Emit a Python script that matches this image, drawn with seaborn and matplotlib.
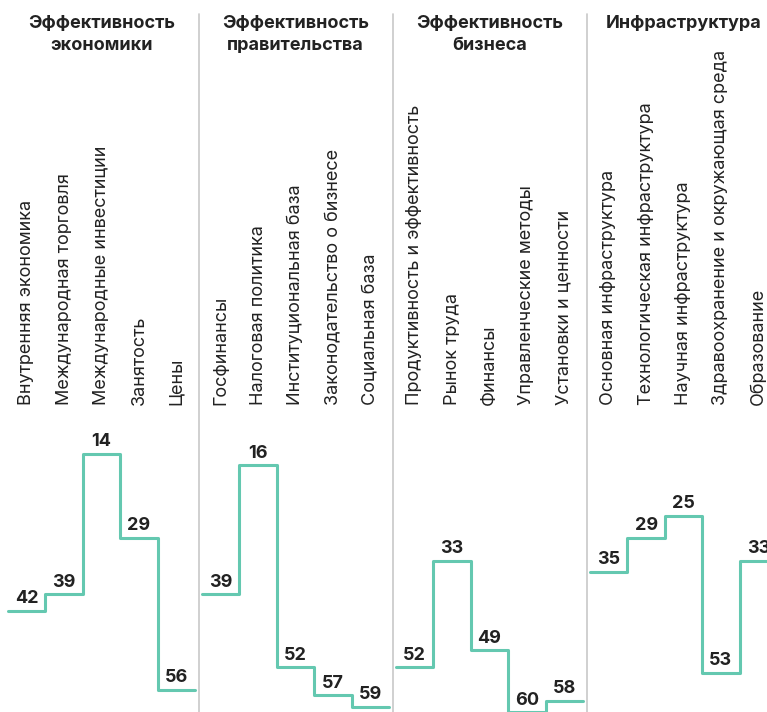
import matplotlib
matplotlib.use("Agg")
import matplotlib.pyplot as plt
import seaborn as sns
import pandas as pd

# ranks per sub-factor (lower = better)
titles = ["Эффективность\nэкономики", "Эффективность\nправительства",
          "Эффективность\nбизнеса", "Инфраструктура"]
cats_econ = ["Внутренняя экономика", "Международная торговля",
             "Международные инвестиции", "Занятость", "Цены"]
cats_gov = ["Госфинансы", "Налоговая политика", "Институциональная база",
            "Законодательство о бизнесе", "Социальная база"]
cats_bus = ["Продуктивность и эффективность", "Рынок труда", "Финансы",
            "Управленческие методы", "Установки и ценности"]
cats_inf = ["Основная инфраструктура", "Технологическая инфраструктура",
            "Научная инфраструктура", "Здравоохранение и окружающая среда",
            "Образование"]
rank_econ = [42, 39, 14, 29, 56]
rank_gov = [39, 16, 52, 57, 59]
rank_bus = [52, 33, 49, 60, 58]
rank_inf = [35, 29, 25, 53, 33]

cats = [cats_econ, cats_gov, cats_bus, cats_inf]
ranks = [rank_econ, rank_gov, rank_bus, rank_inf]

LINE = "#64c8b0"
TXT = "#222222"
SEP = "#c8c8c8"

sns.set_theme(style="white")
plt.rcParams["font.family"] = ["Inter", "DejaVu Sans"]

W, H = 767, 712
fig = plt.figure(figsize=(W / 100, H / 100), dpi=100)

step_px = 37.4
y0 = 375.3   # pixel row of rank 0
k = 5.615    # pixels per rank
y_top = -y0 / k
y_bot = (H - y0) / k

for i in range(4):
    left = 8 + 194 * i
    ax = fig.add_axes([left / W, 0, 5 * step_px / W, 1])
    # steps-post needs the last value repeated at the right edge
    df = pd.DataFrame({"x": list(range(6)), "rank": ranks[i] + [ranks[i][-1]]})
    sns.lineplot(data=df, x="x", y="rank", ax=ax, color=LINE, linewidth=2.2,
                 drawstyle="steps-post", clip_on=False)
    ax.set_xlim(0, 5)
    ax.set_ylim(y_bot, y_top)
    ax.axis("off")
    for j, (c, r) in enumerate(zip(cats[i], ranks[i])):
        ax.annotate(str(r), (j + 0.5, r), xytext=(0, 5.5), textcoords="offset points",
                    ha="center", va="baseline", fontsize=13, fontweight="bold",
                    color=TXT)
        ax.text(j + 0.5, (405 - y0) / k, c, rotation=90, ha="left",
                va="center", fontsize=13, color=TXT, rotation_mode="anchor")
    ax.text(2.5, (15 - y0) / k, titles[i], ha="center", va="top",
            fontsize=13, fontweight="bold", color=TXT, linespacing=1.4)

for xs in [199, 393, 587]:
    fig.add_artist(plt.Line2D([xs / W, xs / W], [0, 1 - 14 / H], color=SEP,
                              linewidth=1.2))

fig.savefig("out.png", dpi=100)
